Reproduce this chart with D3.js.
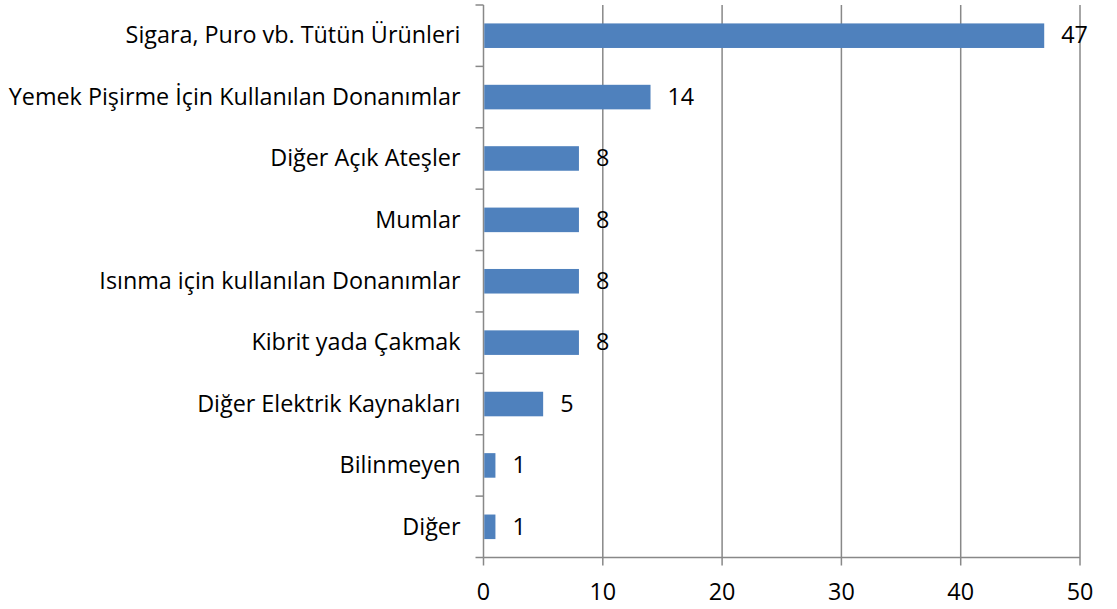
<!DOCTYPE html>
<html><head><meta charset="utf-8">
<script src="https://cdn.jsdelivr.net/npm/d3@7"></script>
<style>body{margin:0;background:#fff}svg{display:block}text{font-family:"Open Sans",sans-serif;fill:#000}</style>
</head><body>
<svg id="c" width="1117" height="609"></svg>
<script>
const categories = ["Sigara, Puro vb. Tütün Ürünleri","Yemek Pişirme İçin Kullanılan Donanımlar","Diğer Açık Ateşler","Mumlar","Isınma için kullanılan Donanımlar","Kibrit yada Çakmak","Diğer Elektrik Kaynakları","Bilinmeyen","Diğer"];
const values = [47,14,8,8,8,8,5,1,1];
const xTicks = [0,10,20,30,40,50];

(function(){
const svg = d3.select("#c");
const L = 483.5, R = 1080, T = 5, B = 557.5;
const x = d3.scaleLinear().domain([0,50]).range([L,R]);
const y = d3.scaleBand().domain(categories).range([T,B]).paddingInner(0.6).paddingOuter(0.3);
const grid = "#888";
const fs = 23.35;

svg.append("g").selectAll("line").data(xTicks.slice(1)).join("line")
  .attr("x1",d=>x(d)).attr("x2",d=>x(d)).attr("y1",T).attr("y2",B+8)
  .attr("stroke",grid).attr("stroke-width",1.5);
svg.append("line").attr("x1",L).attr("x2",R).attr("y1",B).attr("y2",B).attr("stroke",grid).attr("stroke-width",1.5);
svg.append("line").attr("x1",L).attr("x2",L).attr("y1",B).attr("y2",B+8).attr("stroke",grid).attr("stroke-width",1.5);
svg.append("line").attr("x1",L).attr("x2",L).attr("y1",T).attr("y2",B).attr("stroke",grid).attr("stroke-width",1.5);
const bounds = d3.range(categories.length+1).map(i=>T+i*(B-T)/categories.length);
svg.append("g").selectAll("line").data(bounds).join("line")
  .attr("x1",L-8).attr("x2",L).attr("y1",d=>d).attr("y2",d=>d)
  .attr("stroke",grid).attr("stroke-width",1.5);

svg.append("g").selectAll("rect").data(values).join("rect")
  .attr("x",x(0)+0.75).attr("y",(d,i)=>y(categories[i]))
  .attr("width",d=>x(d)-x(0)-0.75).attr("height",y.bandwidth())
  .attr("fill","#4f81bd");

svg.append("g").selectAll("text").data(values).join("text")
  .attr("x",d=>x(d)+17).attr("y",(d,i)=>y(categories[i])+y.bandwidth()/2)
  .attr("dy","0.33em").attr("font-size",fs).text(d=>d);

svg.append("g").selectAll("text").data(categories).join("text")
  .attr("x",L-23).attr("y",d=>y(d)+y.bandwidth()/2)
  .attr("dy","0.33em").attr("text-anchor","end").attr("font-size",fs).text(d=>d);

svg.append("g").selectAll("text").data(xTicks).join("text")
  .attr("x",d=>x(d)).attr("y",600).attr("text-anchor","middle").attr("font-size",fs).text(d=>d);
})();
</script>
</body></html>
